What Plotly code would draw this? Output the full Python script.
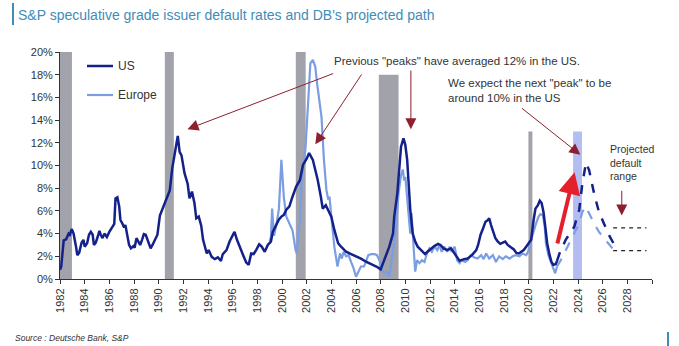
import plotly.graph_objects as go

# ---- data -----------------------------------------------------------------
us_years = [1982.0, 1982.1, 1982.3, 1982.5, 1982.7, 1982.8, 1982.95, 1983.1, 1983.3, 1983.4,
            1983.55, 1983.75, 1983.9, 1984.0, 1984.2, 1984.35, 1984.5, 1984.65, 1984.75, 1984.9,
            1985.05, 1985.2, 1985.3, 1985.45, 1985.6, 1985.8, 1986.0, 1986.25, 1986.4, 1986.5,
            1986.65, 1986.8, 1986.9, 1987.05, 1987.2, 1987.3, 1987.45, 1987.6, 1987.75, 1987.95,
            1988.05, 1988.2, 1988.35, 1988.5, 1988.65, 1988.8, 1988.95, 1989.15, 1989.35, 1989.5,
            1989.7, 1989.9, 1990.1, 1990.35, 1990.6, 1990.75, 1990.9, 1991.1, 1991.3, 1991.55,
            1991.7, 1991.85, 1992.1, 1992.35, 1992.5, 1992.7, 1992.9, 1993.05, 1993.25, 1993.45,
            1993.6, 1993.9, 1994.05, 1994.3, 1994.55, 1994.8, 1995.05, 1995.2, 1995.5, 1995.75,
            1996.05, 1996.15, 1996.35, 1996.55, 1996.85, 1997.1, 1997.3, 1997.5, 1997.7, 1997.9,
            1998.15, 1998.35, 1998.6, 1998.85, 1999.1, 1999.25, 1999.55, 1999.75, 1999.95, 2000.15,
            2000.35, 2000.6, 2000.85, 2001.15, 2001.45, 2001.7, 2002.0, 2002.2, 2002.3, 2002.5,
            2002.7, 2002.9, 2003.15, 2003.3, 2003.55, 2003.75, 2004.0, 2004.25, 2004.55, 2004.75,
            2004.95, 2005.2, 2005.6, 2006.0, 2006.4, 2006.85, 2007.25, 2007.65, 2008.0, 2008.2,
            2008.45, 2008.7, 2009.0, 2009.1, 2009.35, 2009.55, 2009.65, 2009.85, 2010.0, 2010.15,
            2010.25, 2010.4, 2010.6, 2010.8, 2011.0, 2011.3, 2011.6, 2011.8, 2012.1, 2012.35,
            2012.65, 2012.85, 2013.1, 2013.4, 2013.7, 2014.05, 2014.4, 2014.75, 2015.05, 2015.4,
            2015.75, 2015.9, 2016.1, 2016.3, 2016.5, 2016.7, 2016.8, 2016.95, 2017.1, 2017.3,
            2017.5, 2017.7, 2017.9, 2018.1, 2018.3, 2018.5, 2018.8, 2019.0, 2019.2, 2019.4,
            2019.6, 2019.8, 2019.95, 2020.2, 2020.4, 2020.55, 2020.75, 2020.9, 2021.05, 2021.2,
            2021.35, 2021.5, 2021.7, 2021.85, 2022.0, 2022.2, 2022.3]
us_rate = [0.8, 1.1, 3.4, 3.5, 4.0, 3.9, 4.4, 4.0, 2.85, 2.1,
           2.3, 3.2, 3.45, 2.85, 3.15, 3.9, 4.15, 3.9, 3.0, 3.2,
           3.7, 4.25, 3.9, 3.6, 4.0, 3.7, 4.15, 4.6, 4.85, 7.1,
           7.2, 6.4, 5.2, 4.9, 4.55, 4.75, 3.9, 3.0, 2.7, 2.9,
           2.75, 3.6, 3.3, 3.0, 3.45, 3.95, 3.9, 3.3, 2.7, 3.0,
           3.45, 3.9, 5.6, 6.3, 7.1, 7.55, 7.8, 9.75, 11.1, 12.6,
           11.2, 10.9, 9.3, 8.4, 7.1, 7.7, 6.7, 5.35, 5.5, 4.7,
           3.45, 2.25, 2.55, 1.95, 1.75, 1.9, 1.6, 2.2, 2.55, 3.3,
           3.95, 4.15, 3.45, 2.85, 2.1, 1.45, 1.25, 2.25, 2.2, 2.55,
           3.05, 2.85, 2.4, 3.0, 3.3, 4.15, 4.9, 5.25, 5.5, 5.65,
           6.1, 6.4, 7.25, 8.15, 8.7, 10.05, 10.6, 11.1, 10.9, 10.5,
           9.6, 8.7, 7.25, 6.2, 6.5, 6.1, 5.5, 4.3, 3.15, 2.9,
           2.7, 2.4, 2.2, 2.0, 1.8, 1.5, 1.3, 1.1, 0.85, 1.4,
           2.0, 2.85, 4.0, 5.5, 7.55, 9.9, 11.65, 12.4, 11.8, 10.5,
           8.7, 6.1, 4.0, 3.3, 2.85, 2.55, 2.2, 2.4, 2.7, 2.9,
           3.1, 3.0, 2.7, 2.55, 2.7, 2.1, 1.6, 1.75, 1.8, 2.1,
           2.55, 3.0, 3.9, 4.45, 5.05, 5.2, 5.35, 4.75, 4.15, 3.6,
           3.3, 3.1, 3.2, 3.3, 3.0, 2.85, 2.6, 2.3, 2.25, 2.4,
           2.55, 2.85, 3.1, 3.45, 5.2, 6.2, 6.5, 6.9, 6.7, 5.9,
           4.6, 3.15, 2.1, 1.5, 1.25, 1.3, 1.6]

eu_years = [1999.0, 1999.1, 1999.2, 1999.35, 1999.55, 1999.75, 1999.95, 2000.15, 2000.35, 2000.6,
            2000.85, 2001.1, 2001.2, 2001.45, 2001.6, 2001.9, 2002.1, 2002.3, 2002.5, 2002.7,
            2002.85, 2003.2, 2003.4, 2003.6, 2003.75, 2003.85, 2004.0, 2004.25, 2004.5, 2004.7,
            2004.85, 2005.0, 2005.2, 2005.4, 2005.6, 2005.8, 2006.0, 2006.2, 2006.4, 2006.65,
            2006.85, 2007.0, 2007.25, 2007.5, 2007.7, 2007.9, 2008.1, 2008.3, 2008.55, 2008.7,
            2009.05, 2009.25, 2009.45, 2009.6, 2009.65, 2009.8, 2009.9, 2010.0, 2010.15, 2010.25,
            2010.4, 2010.5, 2010.65, 2010.8, 2010.95, 2011.15, 2011.35, 2011.55, 2011.75, 2011.95,
            2012.15, 2012.35, 2012.6, 2012.75, 2012.95, 2013.15, 2013.4, 2013.6, 2013.75, 2014.0,
            2014.2, 2014.4, 2014.55, 2014.85, 2015.05, 2015.3, 2015.6, 2015.85, 2016.15, 2016.35,
            2016.55, 2016.8, 2017.1, 2017.35, 2017.6, 2017.9, 2018.15, 2018.45, 2018.7, 2018.95,
            2019.25, 2019.5, 2019.8, 2019.95, 2020.2, 2020.4, 2020.6, 2020.8, 2020.95, 2021.15,
            2021.3, 2021.4, 2021.6, 2021.8, 2022.0, 2022.15, 2022.3]
eu_rate = [3.3, 3.7, 6.2, 3.8, 4.8, 6.2, 10.5, 7.2, 5.5, 4.9,
           4.3, 2.55, 2.25, 5.2, 9.0, 11.4, 15.8, 19.0, 19.3, 18.7,
           17.2, 14.3, 10.5, 7.85, 7.0, 7.25, 5.5, 2.8, 1.1, 2.25,
           1.8, 2.4, 2.0, 2.1, 1.5, 0.95, 0.2, 0.65, 1.1, 1.1,
           1.65, 2.1, 2.2, 2.2, 2.1, 1.65, 0.8, 0.5, 0.65, 0.2,
           2.85, 4.6, 7.55, 8.7, 9.15, 9.65, 8.7, 9.0, 7.0, 5.2,
           4.0, 5.8, 2.85, 0.65, 1.65, 1.4, 1.65, 1.5, 2.25, 2.7,
           2.4, 2.85, 2.55, 3.0, 2.4, 2.85, 2.4, 2.85, 2.4, 2.85,
           1.65, 1.4, 1.65, 1.5, 1.65, 2.1, 1.9, 1.8, 2.1, 1.75,
           2.25, 1.8, 2.1, 1.5, 2.0, 1.75, 2.0, 1.8, 2.0, 2.1,
           2.0, 2.25, 2.1, 2.4, 3.45, 4.3, 4.9, 5.5, 5.7, 5.65,
           4.6, 3.15, 2.1, 1.5, 0.95, 0.5, 1.1]

# DB projected paths
us_proj_years = [2022.3, 2022.5, 2023.0, 2023.7, 2024.1, 2024.35, 2024.65, 2024.9, 2025.3,
                 2025.7, 2026.1, 2026.5, 2026.9]
us_proj_rate = [1.6, 2.25, 3.45, 4.6, 6.1, 8.4, 10.25, 9.6, 7.55, 5.9, 4.9, 3.9, 3.1]
eu_proj_years = [2022.3, 2022.6, 2023.15, 2023.7, 2024.1, 2024.35, 2024.6, 2024.9, 2025.3,
                 2025.7, 2026.1, 2026.5, 2026.9]
eu_proj_rate = [1.1, 1.65, 2.85, 4.0, 4.9, 5.9, 6.4, 5.8, 4.9, 4.15, 3.6, 3.0, 2.55]

# Projected default range (long-run band)
range_years = [2026.85, 2029.55]
range_high = [4.5, 4.5]
range_low = [2.5, 2.5]

# Recession shading and expected next peak window
recession_start = [1982.0, 1990.5, 2001.12, 2007.85, 2019.98]
recession_end = [1982.97, 1991.23, 2001.92, 2009.45, 2020.3]
recession_top = [20, 20, 20, 18, 13]
peak_window = (2023.6, 2024.32, 13)

x_ticks = list(range(1982, 2031, 2))
x_tick_labels = [str(y) if y < 2030 else "" for y in x_ticks]
y_ticks = list(range(0, 21, 2))
y_tick_labels = [f"{v}%" for v in y_ticks]

# ---- styling --------------------------------------------------------------
US_COL = "#14218a"
EU_COL = "#7b9de2"
ARROW_COL = "#8e1f2e"
FONT = "Liberation Sans, Arial, sans-serif"
TXT = "#333333"

W, H = 679, 346
ML, MR, MT, MB = 60, 27, 52, 67
PW, PH = W - ML - MR, H - MT - MB


def px(x):
    return (x - ML) / PW


def py(y):
    return (H - MB - y) / PH


fig = go.Figure()

fig.add_trace(go.Scatter(x=eu_years, y=eu_rate, mode="lines", name="Europe",
                         line=dict(color=EU_COL, width=2.2), showlegend=False))
fig.add_trace(go.Scatter(x=us_years, y=us_rate, mode="lines", name="US",
                         line=dict(color=US_COL, width=2.5), showlegend=False))
fig.add_trace(go.Scatter(x=eu_proj_years, y=eu_proj_rate, mode="lines",
                         line=dict(color=EU_COL, width=2.2, dash="dash"), showlegend=False))
fig.add_trace(go.Scatter(x=us_proj_years, y=us_proj_rate, mode="lines",
                         line=dict(color=US_COL, width=2.5, dash="dash"), showlegend=False))
for band in (range_high, range_low):
    fig.add_trace(go.Scatter(x=range_years, y=band, mode="lines",
                             line=dict(color="#222222", width=1.2, dash="4px,4px"),
                             showlegend=False))

shapes = []
for x0, x1, top in zip(recession_start, recession_end, recession_top):
    shapes.append(dict(type="rect", xref="x", yref="y", x0=x0, x1=x1, y0=0, y1=top,
                       fillcolor="#a2a2aa", line=dict(width=0), layer="below"))
shapes.append(dict(type="rect", xref="x", yref="y", x0=peak_window[0], x1=peak_window[1],
                   y0=0, y1=peak_window[2], fillcolor="#b3bdf2", line=dict(width=0),
                   layer="below"))

# manual legend swatches
shapes.append(dict(type="line", xref="paper", yref="paper", x0=px(87), x1=px(113),
                   y0=py(66), y1=py(66), line=dict(color=US_COL, width=2.5)))
shapes.append(dict(type="line", xref="paper", yref="paper", x0=px(87), x1=px(113),
                   y0=py(95), y1=py(95), line=dict(color=EU_COL, width=2.2)))
# title accent bar and footer mark
shapes.append(dict(type="line", xref="paper", yref="paper", x0=px(13), x1=px(13),
                   y0=py(3), y1=py(25), line=dict(color="#3f8cb8", width=2)))
shapes.append(dict(type="line", xref="paper", yref="paper", x0=px(668), x1=px(668),
                   y0=py(332), y1=py(346), line=dict(color="#3f8cb8", width=2)))

annotations = []


def label(text, x, y, size=11.5, xanchor="left", italic=False):
    annotations.append(dict(text=text, xref="paper", yref="paper", x=px(x), y=py(y),
                            xanchor=xanchor, yanchor="middle", showarrow=False, align="left",
                            font=dict(family=FONT, size=size, color=TXT,
                                      style="italic" if italic else "normal")))


label("US", 116, 66, size=12)
label("Europe", 116, 95, size=12)
label('Previous "peaks" have averaged 12% in the US.', 332, 61)
label('We expect the next "peak" to be<br>around 10% in the US', 446, 90)
label("Projected<br>default<br>range", 608, 162, size=10.5)
label("Source : Deutsche Bank, S&P", 13, 338, size=8.5, italic=True)


def arrow(tail, head, color=ARROW_COL, width=1.0, size=2.2, head_style=2):
    annotations.append(dict(text="", showarrow=True, xref="x", yref="y", axref="x", ayref="y",
                            x=head[0], y=head[1], ax=tail[0], ay=tail[1],
                            arrowcolor=color, arrowwidth=width, arrowsize=size,
                            arrowhead=head_style, standoff=0))


arrow((2004.27, 18.15), (1992.34, 13.2))
arrow((2006.53, 18.15), (2002.7, 11.87))
arrow((2010.45, 18.5), (2010.45, 13.2))
arrow((2019.33, 15.15), (2024.19, 10.95))
arrow((2027.55, 7.9), (2027.55, 5.6))
arrow((2022.3, 3.0), (2023.72, 9.4), color="#e4202b", width=4, size=1.1)

fig.update_layout(
    width=W, height=H,
    margin=dict(l=ML, r=MR, t=MT, b=MB),
    paper_bgcolor="white", plot_bgcolor="white",
    font=dict(family=FONT, size=11, color=TXT),
    title=dict(text="S&P speculative grade issuer default rates and DB's projected path",
               x=18 / W, xanchor="left", y=1 - 15 / H, yanchor="middle",
               font=dict(family=FONT, size=14, color="#3f8cb8")),
    shapes=shapes,
    annotations=annotations,
    showlegend=False,
    xaxis=dict(range=[1982, 2030], tickvals=x_ticks, ticktext=x_tick_labels,
               tickangle=-90, ticks="outside", ticklen=4, tickcolor="#333",
               showline=True, linecolor="#333", linewidth=1, showgrid=False,
               zeroline=False, tickfont=dict(size=11, color=TXT)),
    yaxis=dict(range=[0, 20], tickvals=y_ticks, ticktext=y_tick_labels, ticks="outside",
               ticklen=4, tickcolor="#333", showline=True, linecolor="#333",
               linewidth=1, showgrid=False, zeroline=False,
               tickfont=dict(size=11, color=TXT)),
)

fig.write_html("out.html")
